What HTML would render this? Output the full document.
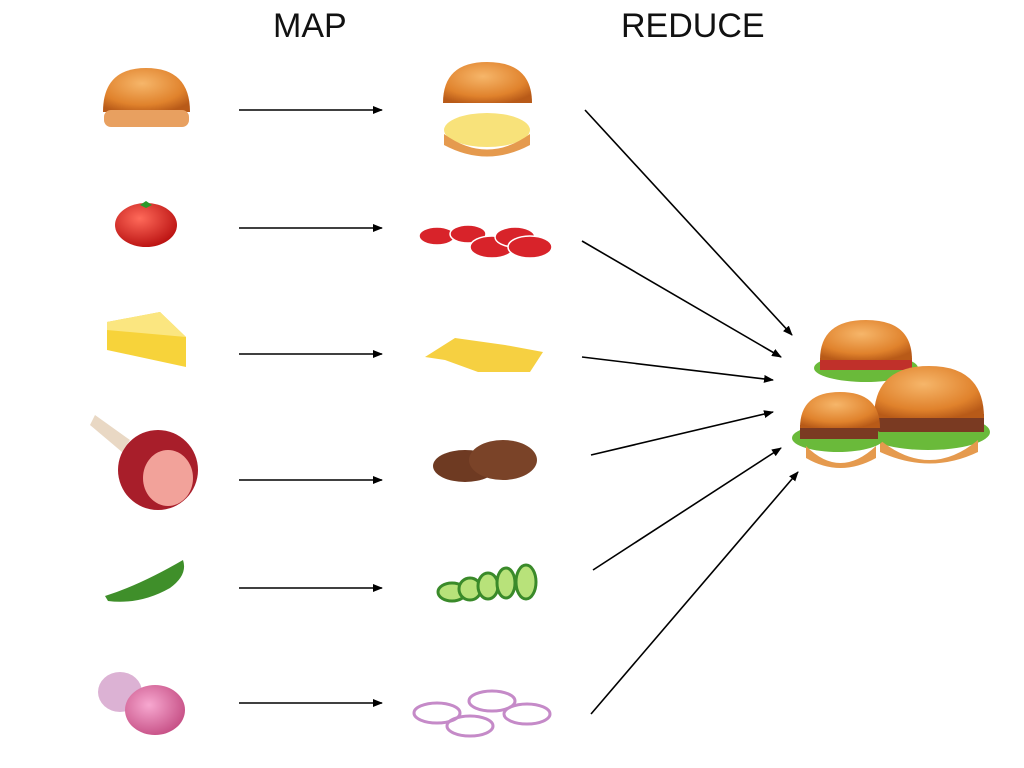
<!DOCTYPE html>
<html><head><meta charset="utf-8"><style>
html,body{margin:0;padding:0;background:#fff;}
svg{display:block}
</style></head><body>
<svg width="1024" height="768" viewBox="0 0 1024 768" xmlns="http://www.w3.org/2000/svg">
<defs>
<marker id="a" markerWidth="10" markerHeight="8" refX="9" refY="4" orient="auto" markerUnits="userSpaceOnUse">
<path d="M0,0 L10,4 L0,8 z" fill="#000"/></marker>
<radialGradient id="bun" cx="0.45" cy="0.35" r="0.7"><stop offset="0" stop-color="#f6b66a"/><stop offset="0.7" stop-color="#e0822c"/><stop offset="1" stop-color="#b85a18"/></radialGradient>
<radialGradient id="tom" cx="0.4" cy="0.35" r="0.7"><stop offset="0" stop-color="#ff6a5a"/><stop offset="1" stop-color="#b80f0f"/></radialGradient>
<radialGradient id="oni" cx="0.4" cy="0.4" r="0.7"><stop offset="0" stop-color="#f7a8d0"/><stop offset="1" stop-color="#c2487f"/></radialGradient>
</defs>
<g font-family="Liberation Sans, sans-serif" font-size="34" fill="#111">
<text x="273" y="37">MAP</text>
<text x="621" y="37">REDUCE</text>
</g>
<g stroke="#000" stroke-width="1.6" marker-end="url(#a)">
<line x1="239" y1="110" x2="382" y2="110"/>
<line x1="239" y1="228" x2="382" y2="228"/>
<line x1="239" y1="354" x2="382" y2="354"/>
<line x1="239" y1="480" x2="382" y2="480"/>
<line x1="239" y1="588" x2="382" y2="588"/>
<line x1="239" y1="703" x2="382" y2="703"/>
<line x1="585" y1="110" x2="792" y2="335"/>
<line x1="582" y1="241" x2="781" y2="357"/>
<line x1="582" y1="357" x2="773" y2="380"/>
<line x1="591" y1="455" x2="773" y2="412"/>
<line x1="593" y1="570" x2="781" y2="448"/>
<line x1="591" y1="714" x2="798" y2="472"/>
</g>
<!-- bun -->
<path d="M103,112 Q103,68 146,68 Q190,68 190,112 Z" fill="url(#bun)"/>
<rect x="104" y="110" width="85" height="17" rx="7" fill="#e8a060"/>
<!-- split bun -->
<path d="M443,103 Q443,62 487,62 Q532,62 532,103 Z" fill="url(#bun)"/>
<ellipse cx="487" cy="130" rx="43" ry="17" fill="#f8e27a"/>
<path d="M444,134 Q487,165 530,134 L530,145 Q487,168 444,145 Z" fill="#e59a4e"/>
<!-- tomato -->
<ellipse cx="146" cy="225" rx="31" ry="22" fill="url(#tom)"/>
<path d="M140,205 l6,-4 l6,4 l-6,3z" fill="#2a9a2a"/>
<!-- tomato slices -->
<g fill="#d8232a" stroke="#fff" stroke-width="1.5">
<ellipse cx="437" cy="236" rx="18" ry="9"/><ellipse cx="468" cy="234" rx="18" ry="9"/>
<ellipse cx="492" cy="247" rx="22" ry="11"/><ellipse cx="515" cy="237" rx="20" ry="10"/><ellipse cx="530" cy="247" rx="22" ry="11"/>
</g>
<!-- cheese -->
<path d="M107,322 L160,312 L186,337 L186,367 L107,350 Z" fill="#f7d33a"/>
<path d="M160,312 L186,337 L107,330 L107,322 Z" fill="#fbe680"/>
<!-- cheese slices -->
<path d="M425,357 L455,338 L505,345 L543,352 L530,372 L478,372 L445,360 Z" fill="#f6d041"/>
<!-- ham -->
<ellipse cx="158" cy="470" rx="40" ry="40" fill="#a81e2a"/>
<ellipse cx="168" cy="478" rx="25" ry="28" fill="#f2a29a"/>
<path d="M95,415 L130,440 L122,452 L90,425 Z" fill="#e9d8c4"/>
<!-- patties -->
<ellipse cx="465" cy="466" rx="32" ry="16" fill="#6e3a22"/>
<ellipse cx="503" cy="460" rx="34" ry="20" fill="#7a4328"/>
<!-- pickle -->
<path d="M105,596 Q140,585 183,560 Q188,575 170,588 Q140,605 108,601 Z" fill="#3f8f2a"/>
<!-- cucumber slices -->
<g fill="#b8e27a" stroke="#3a8a2a" stroke-width="3">
<ellipse cx="452" cy="592" rx="14" ry="9"/><ellipse cx="470" cy="589" rx="11" ry="11"/>
<ellipse cx="488" cy="586" rx="10" ry="13"/><ellipse cx="506" cy="583" rx="9" ry="15"/><ellipse cx="526" cy="582" rx="10" ry="17"/>
</g>
<!-- onion -->
<ellipse cx="120" cy="692" rx="22" ry="20" fill="#dcb2d4"/>
<ellipse cx="155" cy="710" rx="30" ry="25" fill="url(#oni)"/>
<!-- onion rings -->
<g fill="none" stroke="#c58ac8" stroke-width="3">
<ellipse cx="437" cy="713" rx="23" ry="10"/><ellipse cx="492" cy="701" rx="23" ry="10"/>
<ellipse cx="470" cy="726" rx="23" ry="10"/><ellipse cx="527" cy="714" rx="23" ry="10"/>
</g>
<!-- burgers -->
<g>
<ellipse cx="866" cy="368" rx="52" ry="14" fill="#6aba3a"/>
<rect x="820" y="358" width="92" height="12" fill="#c0302a"/>
<path d="M820,360 Q820,320 866,320 Q912,320 912,360 Z" fill="url(#bun)"/>
<ellipse cx="928" cy="432" rx="62" ry="18" fill="#6aba3a"/>
<rect x="874" y="414" width="110" height="18" fill="#7a3a22"/>
<path d="M874,418 Q874,366 929,366 Q984,366 984,418 Z" fill="url(#bun)"/>
<path d="M880,440 Q930,480 978,440 L978,452 Q930,475 880,452 Z" fill="#e59a4e"/>
<ellipse cx="838" cy="438" rx="46" ry="14" fill="#6aba3a"/>
<rect x="800" y="425" width="78" height="14" fill="#7a3a22"/>
<path d="M800,428 Q800,392 840,392 Q880,392 880,428 Z" fill="url(#bun)"/>
<path d="M806,446 Q840,480 876,446 L876,458 Q840,478 806,458 Z" fill="#e59a4e"/>
</g>
</svg>
</body></html>
